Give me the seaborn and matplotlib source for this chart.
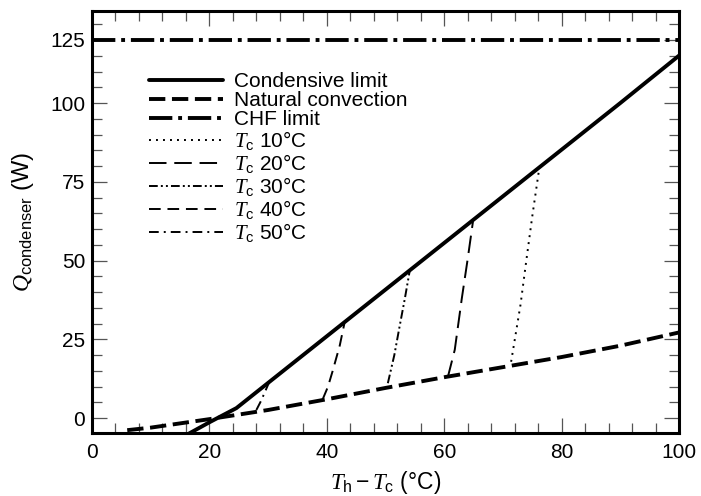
import numpy as np
import pandas as pd
import matplotlib
matplotlib.use("Agg")
import matplotlib.pyplot as plt
import seaborn as sns

# values (x = Th - Tc in degC, y = Q in W)
cond_x = [16.4, 20.0, 24.6, 30.0, 40.0, 50.0, 60.0, 70.0, 80.0, 90.0, 100.0]
cond_y = [-5.0, -1.3, 3.2, 11.2, 26.0, 40.8, 55.6, 70.4, 85.2, 100.0, 118.8]

nat_x = [6.0, 10.0, 20.0, 30.0, 40.0, 50.0, 60.0, 70.0, 80.0, 90.0, 100.0]
nat_y = [-3.8, -3.0, -0.3, 2.6, 6.0, 9.6, 13.0, 16.2, 19.4, 23.0, 27.2]

chf_x = [0.0, 100.0]
chf_y = [125.0, 125.0]

tc10_x = [71.4, 73.0, 74.0, 75.0, 76.2]
tc10_y = [17.9, 36.0, 50.2, 64.0, 79.4]
tc20_x = [60.6, 61.8, 63.0, 64.0, 64.9]
tc20_y = [12.9, 21.7, 38.0, 50.5, 62.4]
tc30_x = [50.4, 51.5, 52.4, 53.3, 54.1]
tc30_y = [11.1, 20.0, 29.1, 38.0, 46.5]
tc40_x = [39.3, 40.2, 41.0, 42.2, 43.0]
tc40_y = [6.0, 10.0, 15.0, 23.0, 30.1]
tc50_x = [28.0, 28.8, 29.5, 30.2]
tc50_y = [2.6, 5.5, 8.5, 11.5]

sns.set_style("ticks")
plt.rcParams['font.family'] = ['Liberation Sans', 'DejaVu Sans']
plt.rcParams['mathtext.fontset'] = 'custom'
plt.rcParams['mathtext.rm'] = 'Liberation Sans'
plt.rcParams['mathtext.it'] = 'Liberation Serif:italic'
plt.rcParams['mathtext.default'] = 'it'
plt.rcParams['text.color'] = 'black'
plt.rcParams['axes.labelcolor'] = 'black'
plt.rcParams['axes.edgecolor'] = 'black'

fig, ax = plt.subplots(figsize=(7.01, 4.96), dpi=100)
fig.subplots_adjust(left=92/701, right=679/701, top=1-11/496, bottom=1-433/496)

# the y axis of the original is squeezed above 100 W
def fwd(y):
    y = np.asarray(y, float)
    return np.where(y <= 100, y, 100 + 0.8*(y - 100))

def inv(t):
    t = np.asarray(t, float)
    return np.where(t <= 100, t, 100 + (t - 100)/0.8)

ax.set_yscale('function', functions=(fwd, inv))

thick = 2.8
thin = 1.4
series = [
    (cond_x, cond_y, "Condensive limit", thick, '-'),
    (nat_x, nat_y, "Natural convection", thick, (0, (4.2, 1.7))),
    (chf_x, chf_y, "CHF limit", thick, (0, (6.0, 1.5, 1.0, 1.5))),
    (tc10_x, tc10_y, r"$T_{\rm c}$ 10°C", thin, (0, (1.0, 2.6))),
    (tc20_x, tc20_y, r"$T_{\rm c}$ 20°C", thin, (0, (9.0, 4.0))),
    (tc30_x, tc30_y, r"$T_{\rm c}$ 30°C", thin, (0, (4.5, 1.6, 1.0, 1.6, 1.0, 1.6))),
    (tc40_x, tc40_y, r"$T_{\rm c}$ 40°C", thin, (0, (6.0, 3.5))),
    (tc50_x, tc50_y, r"$T_{\rm c}$ 50°C", thin, (0, (5.0, 2.6, 1.0, 2.6))),
]
for xs, ys, lab, lw, ls in series:
    df = pd.DataFrame({"x": xs, "y": ys})
    sns.lineplot(data=df, x="x", y="y", ax=ax, color="black", lw=lw,
                 linestyle=ls, label=lab, estimator=None, sort=False)

ax.set_xlim(0, 100)
ax.set_ylim(-4.7, 136.5)
ax.set_xticks([0, 20, 40, 60, 80, 100])
ax.set_xticks(np.arange(4, 100, 4), minor=True)
ax.set_yticks([0, 25, 50, 75, 100, 125])
ax.set_yticks(list(range(5, 100, 5)) + [106.25, 112.5, 118.75, 131.25], minor=True)
ax.set_yticklabels(["0", "25", "50", "75", "100", "125"])

ax.tick_params(which='both', direction='in', top=True, right=True,
               width=0.9, color='#555555', labelcolor='black', labelsize=15)
ax.tick_params(axis='x', pad=7)
ax.tick_params(axis='y', pad=5)
ax.tick_params(which='major', length=11)
ax.tick_params(which='minor', length=7)
for s in ax.spines.values():
    s.set_linewidth(2.2)

ax.set_xlabel(r"$T_{\rm h}-T_{\rm c}$ (°C)", fontsize=16.5, labelpad=5)
ax.set_ylabel(r"$Q_{\rm condenser}$ (W)", fontsize=17, labelpad=10)

ax.legend(loc='upper left', bbox_to_anchor=(0.097, 0.855), frameon=False,
          fontsize=15, handlelength=3.55, handletextpad=0.55,
          labelspacing=0.0, borderpad=0, borderaxespad=0)

fig.savefig("out.png", dpi=100)
